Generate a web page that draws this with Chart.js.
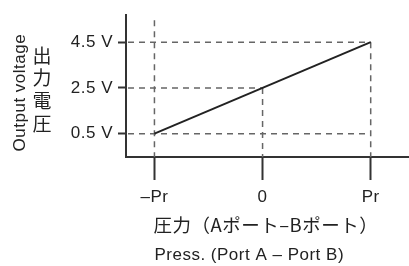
<!DOCTYPE html>
<html><head><meta charset="utf-8">
<script src="https://cdn.jsdelivr.net/npm/chart.js@4"></script>
<style>html,body{margin:0;padding:0;background:#fff}#wrap{width:409px;height:266px}</style>
</head><body><div id="wrap"><canvas id="c" width="409" height="266"></canvas></div>
<script>
// ---- data ----
const pressure = [-1, 0, 1];              // -Pr, 0, Pr (in units of Pr)
const voltage = [0.5, 2.5, 4.5];          // output voltage, V
const xTickValues = [-1, 0, 1];
const xTickLabels = ['–Pr', '0', 'Pr'];
const yTickValues = [0.5, 2.5, 4.5];
const yTickLabels = ['0.5 V', '2.5 V', '4.5 V'];
const yTitleEn = 'Output voltage';
const yTitleJa = '出力電圧';
const xTitleJa = '圧力（Aポート–Bポート）';
const xTitleEn = 'Press. (Port A – Port B)';

const LATIN = '"Liberation Sans", Arial, Helvetica, sans-serif';
const CJK = '"Noto Sans CJK JP", "Noto Sans", sans-serif';
const INK = '#222';

const guidePlugin = {
  id: 'guides',
  beforeDraw(chart) {
    chart.ctx.letterSpacing = '0.5px';
  },
  beforeDatasetsDraw(chart) {
    const {ctx, chartArea: a, scales: {x, y}} = chart;
    const n = pressure.length;
    const X = v => x.getPixelForValue(v), Y = v => y.getPixelForValue(v);
    const seg = (x1, y1, x2, y2) => { ctx.beginPath(); ctx.moveTo(x1, y1); ctx.lineTo(x2, y2); ctx.stroke(); };
    ctx.save();
    ctx.strokeStyle = '#666';
    ctx.lineWidth = 1.5;
    ctx.setLineDash([6, 5]);
    const fx = X(pressure[0]), fy = Y(voltage[0]);
    const lx = X(pressure[n - 1]), ly = Y(voltage[n - 1]);
    seg(fx, a.top + 5, fx, a.bottom);          // -Pr vertical, full height
    seg(a.left + 2, fy, lx, fy);               // low-voltage level
    seg(a.left + 2, ly, lx, ly);               // high-voltage level
    seg(lx, ly, lx, a.bottom);                 // Pr vertical
    for (let i = 1; i < n - 1; i++) {
      const mx = X(pressure[i]), my = Y(voltage[i]);
      seg(a.left + 2, my, mx, my);
      seg(mx, my, mx, a.bottom);
    }
    ctx.restore();
  },
  afterDraw(chart) {
    const {ctx, chartArea: a, scales: {x}} = chart;
    ctx.save();
    ctx.fillStyle = INK;
    ctx.letterSpacing = '0.5px';
    // y title, English rotated
    ctx.save();
    ctx.translate(25, (a.top + a.bottom) / 2 + 6.5);
    ctx.rotate(-Math.PI / 2);
    ctx.font = '17px ' + LATIN;
    ctx.textAlign = 'center';
    ctx.textBaseline = 'alphabetic';
    ctx.fillText(yTitleEn, 0, 0);
    ctx.restore();
    // y title, Japanese stacked vertically
    ctx.letterSpacing = '0px';
    ctx.font = '19px ' + CJK;
    ctx.textAlign = 'center';
    ctx.textBaseline = 'middle';
    const chars = Array.from(yTitleJa);
    const pitch = 22.7;
    const cy = (a.top + a.bottom) / 2 + 3.5;
    chars.forEach((ch, i) => ctx.fillText(ch, 42, cy + (i - (chars.length - 1) / 2) * pitch));
    // x titles, left aligned at the -Pr position
    const left = x.getPixelForValue(xTickValues[0]) - 1;
    ctx.textAlign = 'left';
    ctx.letterSpacing = '0.5px';
    ctx.font = '18.5px ' + CJK;
    ctx.fillText(xTitleJa, left, a.bottom + 68);
    ctx.font = '17px ' + LATIN;
    ctx.fillText(xTitleEn, left + 1, a.bottom + 98);
    ctx.restore();
  }
};

new Chart(document.getElementById('c'), {
  type: 'line',
  data: {
    datasets: [{
      data: pressure.map((p, i) => ({x: p, y: voltage[i]})),
      borderColor: INK,
      borderWidth: 2,
      pointRadius: 0,
      tension: 0,
      fill: false
    }]
  },
  options: {
    responsive: false,
    animation: false,
    devicePixelRatio: 1,
    layout: {padding: {top: 12, right: 1, left: 0, bottom: 0}},
    plugins: {legend: {display: false}, tooltip: {enabled: false}},
    scales: {
      x: {
        type: 'linear', min: -1.263, max: 1.345,
        afterBuildTicks: s => { s.ticks = xTickValues.map(v => ({value: v})); },
        afterFit: s => { s.height = 109; },
        grid: {drawOnChartArea: false, drawTicks: true, tickLength: 23, tickColor: '#333', tickWidth: 2},
        border: {display: true, color: '#333', width: 2},
        ticks: {padding: 7, color: INK, maxRotation: 0, autoSkip: false,
          font: {family: LATIN, size: 17},
          callback: v => xTickLabels[xTickValues.indexOf(v)]}
      },
      y: {
        type: 'linear', min: -0.52, max: 5.68,
        afterBuildTicks: s => { s.ticks = yTickValues.map(v => ({value: v})); },
        afterFit: s => { s.width = 126; },
        grid: {drawOnChartArea: false, drawTicks: true, tickLength: 8, tickColor: '#333', tickWidth: 2},
        border: {display: true, color: '#333', width: 2},
        ticks: {padding: 5, color: INK, autoSkip: false,
          font: {family: LATIN, size: 17},
          callback: v => yTickLabels[yTickValues.indexOf(v)]}
      }
    }
  },
  plugins: [guidePlugin]
});
</script></body></html>
